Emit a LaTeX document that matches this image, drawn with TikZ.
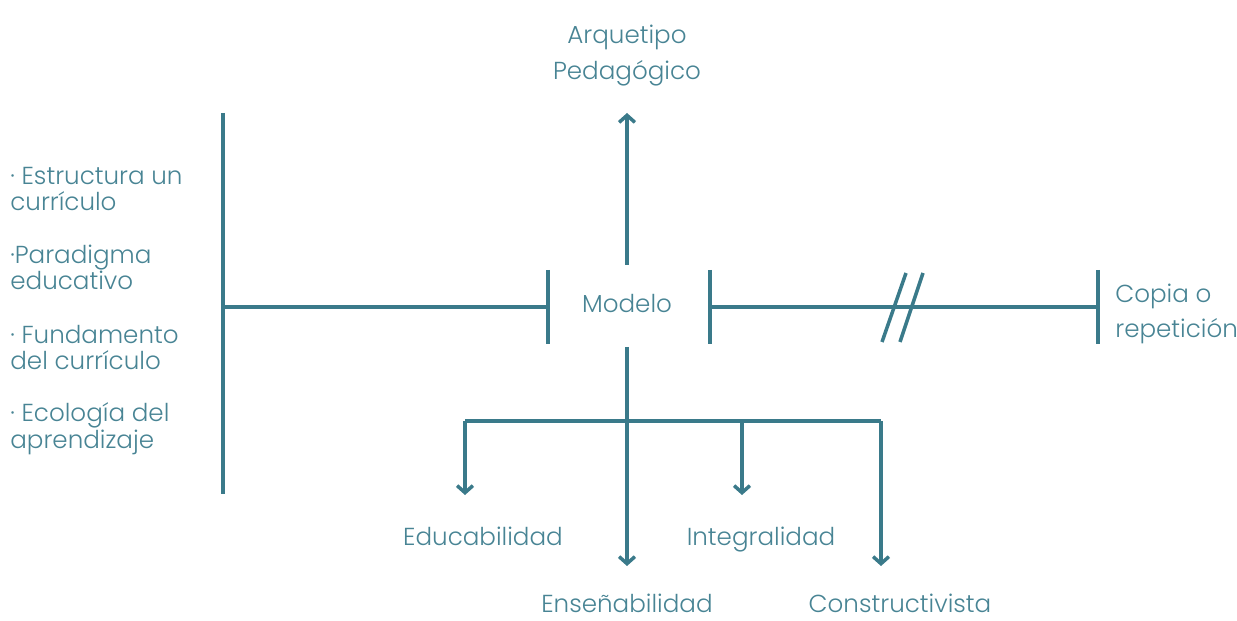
\documentclass[tikz,border=0pt]{standalone}
\usepackage{fontspec}
\setmainfont{Poppins}[UprightFont=* Light]
\usetikzlibrary{positioning}
\usetikzlibrary{calc}
\usetikzlibrary{arrows.meta}
\definecolor{tealline}{RGB}{58,122,138}
\definecolor{tealtext}{RGB}{72,132,148}
\tikzset{
    bar/.style = {draw=tealline, line width=2pt},
    arr/.style = {bar, -{Straight Barb[length=4pt,width=9pt,line width=2pt]}},
    word/.style = {text=tealtext, font=\fontsize{14}{21}\selectfont, inner sep=0pt, anchor=base},
    item/.style = {word, font=\fontsize{14}{15.3}\selectfont, align=left, anchor=base west}}

\begin{document}
\begin{tikzpicture}
        \useasboundingbox (0,0) rectangle (24.74,-12.42);
        % centre and the text round it (base = last line)
        \node[word] (modelo) at (12.54,-6.26) {Modelo};
        \node[word, align=center] (arquetipo) at (12.54,-1.60) {Arquetipo\\Pedagógico};
        \node[word, font=\fontsize{14}{19.8}\selectfont, align=left, anchor=base west] (copia) at (22.30,-6.74) {Copia o\\repetición};
        \node[word] (educ) at (9.66,-10.90) {Educabilidad};
        \node[word] (integ) at (15.22,-10.90) {Integralidad};
        \node[word] (ensen) at (12.54,-12.24) {Enseñabilidad};
        \node[word] (constr) at (18.0,-12.24) {Constructivista};
        % left list
        \node[item] (estructura) at (0.2,-4.22) {· Estructura un\\currículo};
        \node[item] (paradigma) at (0.2,-5.80) {·Paradigma\\educativo};
        \node[item] (fundamento) at (0.2,-7.40) {· Fundamento\\del currículo};
        \node[item] (ecologia) at (0.2,-8.96) {· Ecología del\\aprendizaje};
        % bar ends
        \coordinate (Ltop) at (4.46,-2.26);
        \coordinate (Lbot) at (4.46,-9.88);
        \coordinate (Lmid) at (4.46,-6.14);
        \coordinate (Bl) at (10.96,-6.14);
        \coordinate (Br) at (14.2,-6.14);
        \coordinate (Bc) at (21.96,-6.14);
        \coordinate (Mup) at (12.54,-5.30);
        \coordinate (Aend) at (12.54,-2.26);
        \coordinate (Mdown) at (12.54,-6.94);
        \coordinate (Fork) at (12.54,-8.42);
        \coordinate (Fl) at (9.30,-8.42);
        \coordinate (Fr) at (17.62,-8.42);
        \coordinate (Fi) at (14.84,-8.42);
        \draw[bar] (Ltop) -- (Lbot) (Lmid) -- (Bl);
        \draw[bar] ($(Bl)+(0,0.74)$) -- ($(Bl)+(0,-0.74)$);
        \draw[bar] ($(Br)+(0,0.74)$) -- ($(Br)+(0,-0.74)$);
        \draw[bar] ($(Bc)+(0,0.74)$) -- ($(Bc)+(0,-0.74)$);
        \draw[bar] (Br) -- (Bc);
        \draw[bar] (17.64,-6.84) -- (18.12,-5.46) (18.0,-6.84) -- (18.46,-5.46);
        \draw[arr] (Mup) -- (Aend);
        \draw[arr] (Mdown) -- (12.54,-11.32);
        \draw[bar] (Fl) -- (Fr);
        \draw[arr] (Fl) -- (9.30,-9.90);
        \draw[arr] (Fi) -- (14.84,-9.90);
        \draw[arr] (Fr) -- (17.62,-11.32);
\end{tikzpicture}
\end{document}
